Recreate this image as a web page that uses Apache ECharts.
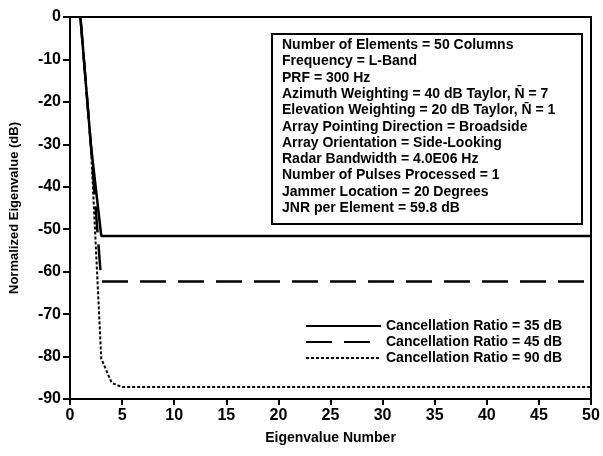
<!DOCTYPE html>
<html>
<head>
<meta charset="utf-8">
<script src="https://cdn.jsdelivr.net/npm/echarts@6/dist/echarts.min.js"></script>
<style>
  html, body { margin: 0; padding: 0; background: #fff; }
  #chart { width: 603px; height: 456px; }
</style>
</head>
<body>
<div id="chart"></div>
<script>
// Eigenvalue index (1..50)
const eigenNumbers = [
  1, 2, 3, 4, 5, 6, 7, 8, 9, 10,
  11, 12, 13, 14, 15, 16, 17, 18, 19, 20,
  21, 22, 23, 24, 25, 26, 27, 28, 29, 30,
  31, 32, 33, 34, 35, 36, 37, 38, 39, 40,
  41, 42, 43, 44, 45, 46, 47, 48, 49, 50
];

// Normalized eigenvalues (dB) for each cancellation ratio
const ratio35 = [
  0, -30, -51.6, -51.6, -51.6, -51.6, -51.6, -51.6, -51.6, -51.6,
  -51.6, -51.6, -51.6, -51.6, -51.6, -51.6, -51.6, -51.6, -51.6, -51.6,
  -51.6, -51.6, -51.6, -51.6, -51.6, -51.6, -51.6, -51.6, -51.6, -51.6,
  -51.6, -51.6, -51.6, -51.6, -51.6, -51.6, -51.6, -51.6, -51.6, -51.6,
  -51.6, -51.6, -51.6, -51.6, -51.6, -51.6, -51.6, -51.6, -51.6, -51.6
];
const ratio45 = [
  0, -30, -62.3, -62.3, -62.3, -62.3, -62.3, -62.3, -62.3, -62.3,
  -62.3, -62.3, -62.3, -62.3, -62.3, -62.3, -62.3, -62.3, -62.3, -62.3,
  -62.3, -62.3, -62.3, -62.3, -62.3, -62.3, -62.3, -62.3, -62.3, -62.3,
  -62.3, -62.3, -62.3, -62.3, -62.3, -62.3, -62.3, -62.3, -62.3, -62.3,
  -62.3, -62.3, -62.3, -62.3, -62.3, -62.3, -62.3, -62.3, -62.3, -62.3
];
const ratio90 = [
  0, -30, -80.5, -86.2, -87.2, -87.2, -87.2, -87.2, -87.2, -87.2,
  -87.2, -87.2, -87.2, -87.2, -87.2, -87.2, -87.2, -87.2, -87.2, -87.2,
  -87.2, -87.2, -87.2, -87.2, -87.2, -87.2, -87.2, -87.2, -87.2, -87.2,
  -87.2, -87.2, -87.2, -87.2, -87.2, -87.2, -87.2, -87.2, -87.2, -87.2,
  -87.2, -87.2, -87.2, -87.2, -87.2, -87.2, -87.2, -87.2, -87.2, -87.2
];

const seriesNames = [
  'Cancellation Ratio = 35 dB',
  'Cancellation Ratio = 45 dB',
  'Cancellation Ratio = 90 dB'
];

// Simulation parameters listed in the annotation box
const paramLines = [
  'Number of Elements = 50 Columns',
  'Frequency = L-Band',
  'PRF = 300 Hz',
  'Azimuth Weighting = 40 dB Taylor, N\u0304 = 7',
  'Elevation Weighting = 20 dB Taylor, N\u0304 = 1',
  'Array Pointing Direction = Broadside',
  'Array Orientation = Side-Looking',
  'Radar Bandwidth = 4.0E06 Hz',
  'Number of Pulses Processed = 1',
  'Jammer Location = 20 Degrees',
  'JNR per Element = 59.8 dB'
];

const FONT = "'Liberation Sans', Arial, Helvetica, sans-serif";

const pairs = (ys) => eigenNumbers.map((x, i) => [x, ys[i]]);

const chart = echarts.init(document.getElementById('chart'), null, { renderer: 'canvas' });

chart.setOption({
  animation: false,
  backgroundColor: '#fff',
  grid: {
    left: 70, top: 17, right: 12, bottom: 57,
    outerBoundsMode: 'none',
    containLabel: false,
    show: true, borderColor: '#000', borderWidth: 2, backgroundColor: 'transparent'
  },
  xAxis: {
    type: 'value', min: 0, max: 50, interval: 5,
    name: 'Eigenvalue Number', nameLocation: 'middle', nameGap: 32,
    nameTextStyle: { color: '#000', fontFamily: FONT, fontWeight: 'bold', fontSize: 14 },
    axisLine: { onZero: false, lineStyle: { color: '#000', width: 2 } },
    axisTick: { inside: false, length: 6, lineStyle: { color: '#000', width: 2 } },
    axisLabel: { color: '#000', fontFamily: FONT, fontWeight: 'bold', fontSize: 16, margin: 9 },
    splitLine: { show: false }
  },
  yAxis: {
    type: 'value', min: -90, max: 0, interval: 10,
    name: 'Normalized Eigenvalue (dB)', nameLocation: 'middle', nameGap: 49, nameRotate: 90,
    nameTextStyle: { color: '#000', fontFamily: FONT, fontWeight: 'bold', fontSize: 13 },
    axisLine: { show: true, onZero: false, lineStyle: { color: '#000', width: 2 } },
    axisTick: { show: true, inside: false, length: 7, lineStyle: { color: '#000', width: 2 } },
    axisLabel: { color: '#000', fontFamily: FONT, fontWeight: 'bold', fontSize: 16, margin: 9 },
    splitLine: { show: false }
  },
  legend: {
    orient: 'vertical', left: 305, top: 319,
    itemWidth: 75, itemHeight: 14, itemGap: 2, padding: 0,
    itemStyle: { opacity: 0 },
    textStyle: { color: '#000', fontFamily: FONT, fontWeight: 'bold', fontSize: 14 },
    data: seriesNames
  },
  series: [
    {
      name: seriesNames[0], type: 'line', data: pairs(ratio35),
      symbol: 'none', color: '#000',
      lineStyle: { color: '#000', width: 2.5, type: 'solid' }
    },
    {
      name: seriesNames[1], type: 'line', data: pairs(ratio45),
      symbol: 'none', color: '#000',
      lineStyle: { color: '#000', width: 2.5, type: [26, 12] }
    },
    {
      name: seriesNames[2], type: 'line', data: pairs(ratio90),
      symbol: 'none', color: '#000',
      lineStyle: { color: '#000', width: 2, type: [3, 2] }
    }
  ],
  graphic: [
    {
      type: 'rect', left: 271, top: 33, z: 100,
      shape: { width: 310, height: 190 },
      style: { fill: '#fff', stroke: '#000', lineWidth: 2 }
    },
    {
      type: 'text', left: 282, top: 37, z: 101,
      style: {
        text: paramLines.join('\n'),
        fill: '#000',
        font: "bold 14px " + FONT,
        lineHeight: 16.3
      }
    }
  ]
});
</script>
</body>
</html>
